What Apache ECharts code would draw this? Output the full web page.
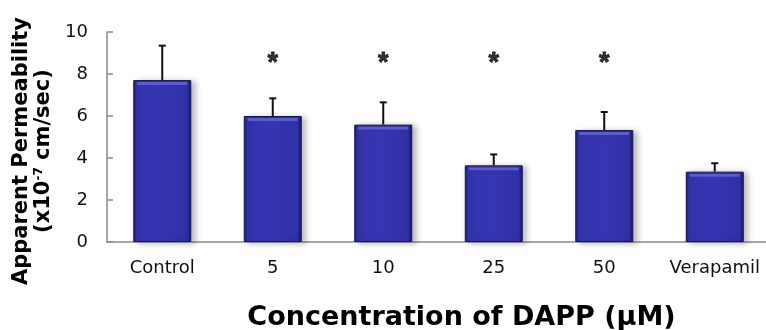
<!DOCTYPE html>
<html>
<head>
<meta charset="utf-8">
<script src="https://cdn.jsdelivr.net/npm/echarts@6/dist/echarts.min.js"></script>
<style>html,body{margin:0;padding:0;background:#fff}#c{width:766px;height:330px}</style>
</head>
<body>
<div id="c"></div>
<script>
const categories = ['Control', '5', '10', '25', '50', 'Verapamil'];
const meanValues = [7.71, 6.0, 5.59, 3.65, 5.33, 3.35];
const errorTops = [9.35, 6.84, 6.65, 4.17, 6.19, 3.75];
const significant = [false, true, true, true, true, false];
const yTicks = [0, 2, 4, 6, 8, 10];
const STAR_LEVEL = 8.5;

const FONT = '"DejaVu Sans", sans-serif';
const chart = echarts.init(document.getElementById('c'), null, {renderer: 'canvas'});

const errData = categories.map((c, i) => [i, meanValues[i], errorTops[i]]);
const starData = [];
significant.forEach((s, i) => { if (s) starData.push([i, STAR_LEVEL]); });

chart.setOption({
  animation: false,
  backgroundColor: '#fff',
  grid: {left: 107, right: -4, top: 32, bottom: 88, containLabel: false, outerBoundsMode: 'none'},
  xAxis: {
    type: 'category',
    data: categories,
    axisTick: {show: false},
    axisLine: {lineStyle: {color: '#8a8a8a', width: 1.5}},
    axisLabel: {color: '#111', fontFamily: FONT, fontSize: 18, margin: 17, interval: 0},
    name: 'Concentration of DAPP (μM)',
    nameLocation: 'middle',
    nameGap: 62,
    nameTextStyle: {color: '#000', fontFamily: FONT, fontSize: 27, fontWeight: 'bold', padding: [0, 0, 0, 46]}
  },
  yAxis: {
    type: 'value',
    min: yTicks[0],
    max: yTicks[yTicks.length - 1],
    interval: yTicks[1] - yTicks[0],
    splitLine: {show: false},
    axisLine: {show: true, lineStyle: {color: '#8a8a8a', width: 1.5}},
    axisTick: {show: true, inside: true, length: 6, lineStyle: {color: '#8a8a8a', width: 1.5}},
    axisLabel: {color: '#111', fontFamily: FONT, fontSize: 18, margin: 19},
    name: '{a|Apparent Permeability}\n{a|(x10}{s|-7}{a| cm/sec)}',
    nameLocation: 'middle',
    nameRotate: 90,
    nameGap: 42,
    nameTextStyle: {
      padding: [0, 28, 0, 0],
      rich: {
        a: {fontFamily: FONT, fontSize: 21, fontWeight: 'bold', color: '#000', lineHeight: 22},
        s: {fontFamily: FONT, fontSize: 12, fontWeight: 'bold', color: '#000', lineHeight: 22, verticalAlign: 'top'}
      }
    }
  },
  series: [
    {
      type: 'bar',
      data: meanValues,
      barWidth: 58,
      z: 2,
      itemStyle: {
        color: new echarts.graphic.LinearGradient(0, 0, 1, 0, [
          {offset: 0, color: '#1a1a66'},
          {offset: 0.06, color: '#3434ae'},
          {offset: 0.5, color: '#3636b2'},
          {offset: 0.93, color: '#3030a6'},
          {offset: 1, color: '#141458'}
        ]),
        borderColor: '#16165c',
        borderWidth: 1,
        shadowColor: 'rgba(0,0,0,0.28)',
        shadowBlur: 6,
        shadowOffsetX: 4,
        shadowOffsetY: 1
      }
    },
    {
      type: 'custom',
      z: 3,
      data: errData,
      renderItem: function (params, api) {
        const i = api.value(0);
        const top = api.coord([i, api.value(1)]);
        const bw = 58;
        return {
          type: 'group',
          children: [
            {type: 'rect', shape: {x: top[0] - bw / 2 + 4, y: top[1] + 2, width: bw - 8, height: 3},
             style: {fill: '#5b5bd2'}},
            {type: 'rect', shape: {x: top[0] - bw / 2 + 1, y: top[1] + 1, width: bw - 2, height: 1},
             style: {fill: '#2a2a90'}}
          ]
        };
      }
    },
    {
      type: 'custom',
      z: 4,
      data: errData,
      renderItem: function (params, api) {
        const i = api.value(0);
        const base = api.coord([i, api.value(1)]);
        const tip = api.coord([i, api.value(2)]);
        const capHalf = 3.5;
        return {
          type: 'group',
          children: [
            {type: 'line', shape: {x1: base[0], y1: base[1], x2: tip[0], y2: tip[1]},
             style: {stroke: '#111', lineWidth: 2}},
            {type: 'line', shape: {x1: tip[0] - capHalf, y1: tip[1], x2: tip[0] + capHalf, y2: tip[1]},
             style: {stroke: '#111', lineWidth: 2}}
          ]
        };
      }
    },
    {
      type: 'scatter',
      z: 5,
      data: starData,
      symbolSize: 0,
      label: {
        show: true,
        position: 'inside',
        formatter: '*',
        fontFamily: '"Liberation Sans", Arial, sans-serif',
        fontSize: 27,
        fontWeight: 'bold',
        color: '#000',
        textBorderColor: '#000',
        textBorderWidth: 0.8
      }
    }
  ]
});
</script>
</body>
</html>
